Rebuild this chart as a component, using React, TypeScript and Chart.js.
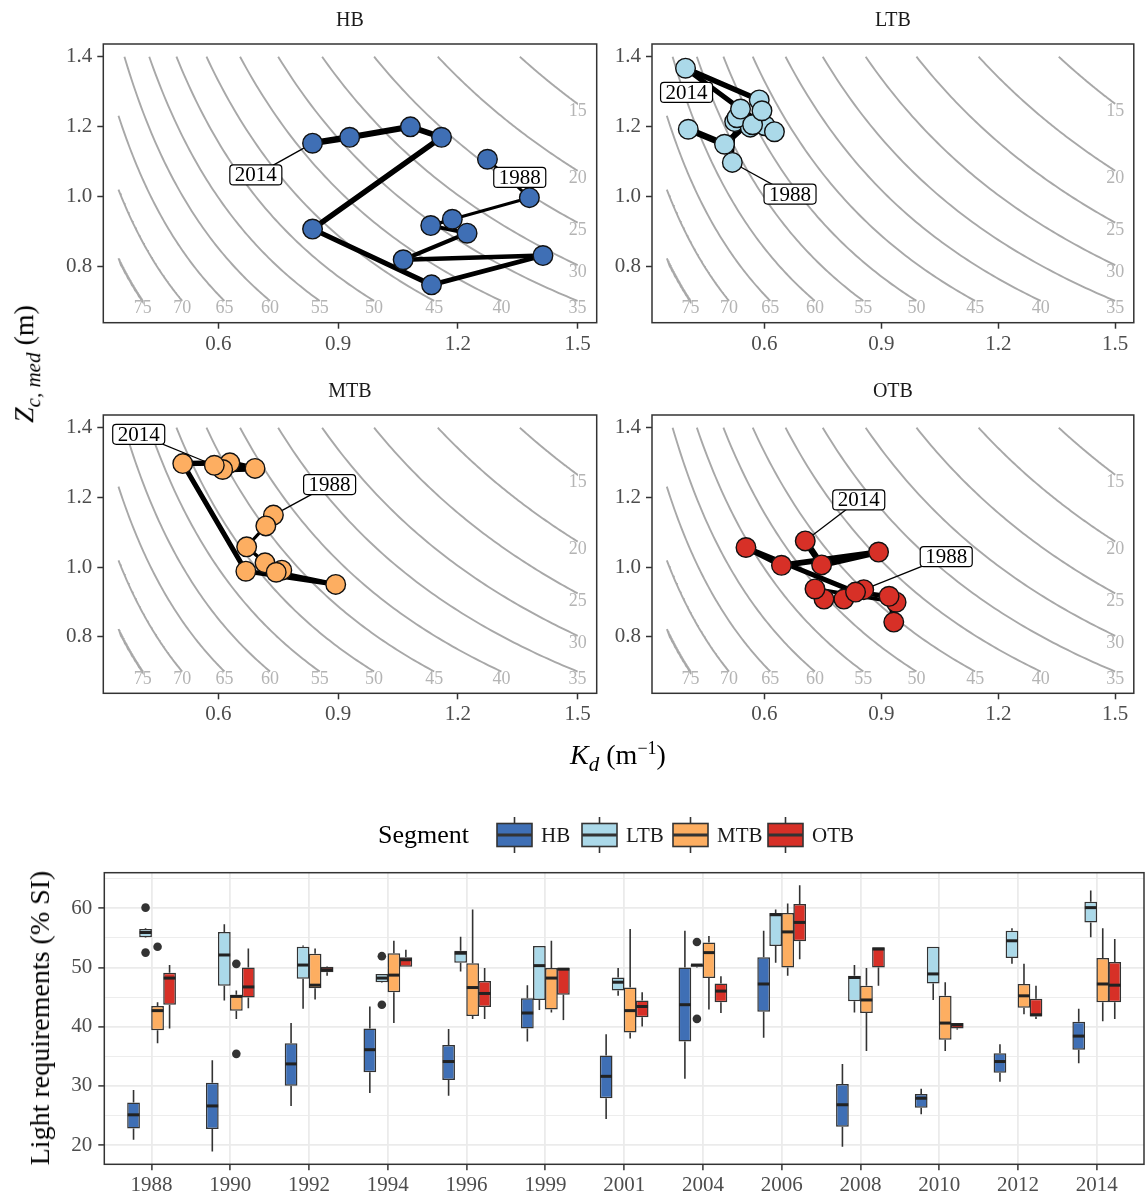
import React, { useEffect, useRef } from "react";
import { Chart, registerables } from "chart.js";

Chart.register(...registerables);

const SERIF = "'Liberation Serif', 'Times New Roman', Times, serif";

// ---------- data ----------
const years = ["1988", "1990", "1992", "1994", "1996", "1999", "2001", "2004", "2006", "2008", "2010", "2012", "2014"];
const kdTicks = [0.6, 0.9, 1.2, 1.5];
const zcTicks = [0.8, 1.0, 1.2, 1.4];
const lightLevels = [75, 70, 65, 60, 55, 50, 45, 40, 35, 30, 25, 20, 15];

// median Kd (m-1) and Zc,med (m) by year (same order as `years`)
const hbKd = [1.274, 1.379, 1.186, 1.132, 1.223, 1.063, 1.413, 1.134, 0.836, 1.159, 1.081, 0.929, 0.836];
const hbZc = [1.106, 0.996, 0.934, 0.916, 0.894, 0.818, 0.830, 0.746, 0.906, 1.169, 1.199, 1.169, 1.152];
const ltbKd = [0.518, 0.524, 0.564, 0.602, 0.530, 0.570, 0.626, 0.539, 0.398, 0.587, 0.594, 0.498, 0.405];
const ltbZc = [1.097, 1.214, 1.198, 1.202, 1.225, 1.205, 1.185, 1.250, 1.367, 1.276, 1.245, 1.149, 1.192];
const mtbKd = [0.738, 0.719, 0.671, 0.717, 0.759, 0.745, 0.894, 0.669, 0.511, 0.629, 0.692, 0.611, 0.590];
const mtbZc = [1.149, 1.118, 1.058, 1.012, 0.991, 0.985, 0.950, 0.988, 1.297, 1.299, 1.283, 1.280, 1.292];
const otbKd = [0.855, 0.804, 0.753, 0.730, 0.938, 0.932, 0.920, 0.834, 0.553, 0.644, 0.893, 0.747, 0.705];
const otbZc = [0.935, 0.908, 0.908, 0.937, 0.899, 0.842, 0.916, 0.928, 1.056, 1.005, 1.043, 1.006, 1.075];

// light requirements (% SI): [lower whisker, Q1, median, Q3, upper whisker]
const hbBox = [
  [20.9, 22.8, 25.1, 27.2, 29.3], [18.9, 22.7, 26.6, 30.5, 34.3], [26.6, 30.0, 33.7, 37.2, 40.6],
  [28.8, 32.3, 36.1, 39.7, 43.4], [28.3, 31.0, 34.1, 36.9, 39.6], [37.5, 39.7, 42.3, 44.8, 47.0],
  [24.4, 27.9, 31.6, 35.1, 38.7], [31.2, 37.5, 43.7, 50.0, 56.2], [38.1, 42.5, 47.2, 51.7, 56.2],
  [19.7, 23.1, 26.8, 30.3, 33.7], [25.2, 26.3, 27.9, 28.6, 29.5], [30.7, 32.2, 34.1, 35.5, 37.0],
  [33.8, 36.1, 38.4, 40.8, 43.0],
];
const ltbBox = [
  [55.0, 55.1, 55.9, 56.5, 56.6], [44.4, 46.9, 52.1, 56.0, 57.3], [43.0, 48.1, 50.4, 53.5, 53.7],
  [47.4, 47.5, 48.2, 48.9, 48.9], [49.3, 50.8, 52.4, 52.8, 55.2], [42.8, 44.5, 50.3, 53.6, 53.6],
  [45.2, 46.1, 47.5, 48.3, 49.9], [50.0, 50.1, 50.4, 50.5, 50.5], [50.8, 53.6, 58.9, 59.2, 59.8],
  [42.4, 44.3, 48.3, 48.6, 50.4], [44.5, 47.3, 48.9, 53.5, 53.5], [50.6, 51.6, 54.5, 56.2, 56.6],
  [55.1, 57.6, 60.1, 61.1, 63.0],
];
const mtbBox = [
  [37.2, 39.4, 42.7, 43.5, 44.1], [41.3, 42.7, 45.1, 45.4, 46.1], [44.6, 46.5, 47.0, 52.3, 53.2],
  [40.6, 45.8, 48.7, 52.4, 54.5], [41.3, 41.8, 46.6, 50.7, 59.8], [42.4, 42.9, 48.2, 49.9, 54.5],
  [38.0, 39.0, 42.7, 46.6, 56.5], [42.9, 48.2, 52.5, 54.2, 55.3], [48.6, 50.0, 56.0, 59.2, 60.8],
  [35.9, 42.3, 44.5, 46.9, 49.9], [35.9, 37.8, 40.6, 45.2, 47.5], [42.1, 43.2, 45.2, 47.2, 50.6],
  [40.9, 44.1, 47.2, 51.6, 56.6],
];
const otbBox = [
  [39.7, 43.7, 48.2, 49.1, 50.4], [43.1, 44.9, 46.7, 50.0, 53.2], [48.6, 49.2, 49.6, 50.1, 50.2],
  [50.1, 50.1, 51.3, 51.7, 53.0], [41.3, 43.3, 45.6, 47.7, 49.9], [41.1, 45.4, 49.7, 49.9, 49.9],
  [40.0, 41.6, 43.4, 44.4, 45.8], [42.3, 44.1, 46.0, 47.3, 48.5], [51.4, 54.4, 57.6, 60.7, 63.9],
  [46.9, 50.0, 53.1, 53.4, 53.4], [39.5, 39.7, 40.3, 40.6, 40.6], [41.3, 41.7, 42.0, 44.7, 46.9],
  [41.3, 44.1, 47.0, 50.9, 54.8],
];
// outliers: [year index, value]
const hbOut: number[][] = [];
const ltbOut = [[0, 60.1], [0, 52.5], [3, 51.9], [3, 43.7], [7, 54.3], [7, 41.3]];
const mtbOut = [[0, 53.5], [1, 50.6], [1, 35.4]];
const otbOut: number[][] = [];

const pctTicks = [20, 25, 30, 35, 40, 45, 50, 55, 60, 65];

// ---------- styling ----------
const COLORS = { HB: "#3f6fb5", LTB: "#abd9e9", MTB: "#fdae61", OTB: "#d73027" };
const KD_MIN = 0.312, KD_MAX = 1.5476, ZC_MIN = 0.6375, ZC_MAX = 1.4364;
const CONT_KD = [0.35, 1.5], CONT_ZC = [0.7, 1.4];

function frame(chart: any) {
  const { ctx, chartArea: a } = chart;
  ctx.save();
  ctx.strokeStyle = "#333333";
  ctx.lineWidth = 1.5;
  ctx.strokeRect(a.left, a.top, a.right - a.left, a.bottom - a.top);
  ctx.restore();
}

function roundRect(ctx: CanvasRenderingContext2D, x: number, y: number, w: number, h: number, r: number) {
  ctx.beginPath();
  ctx.moveTo(x + r, y);
  ctx.lineTo(x + w - r, y);
  ctx.arcTo(x + w, y, x + w, y + r, r);
  ctx.lineTo(x + w, y + h - r);
  ctx.arcTo(x + w, y + h, x + w - r, y + h, r);
  ctx.lineTo(x + r, y + h);
  ctx.arcTo(x, y + h, x, y + h - r, r);
  ctx.lineTo(x, y + r);
  ctx.arcTo(x, y, x + r, y, r);
  ctx.closePath();
}

type Lab = { i: number; dx: number; dy: number; seg: boolean };
type PanelProps = {
  name: string; kd: number[]; zc: number[]; color: string;
  left: number; top: number; width: number; height: number;
  area: { l: number; t: number; r: number; b: number };
  labels: Lab[];
};

function Panel(p: PanelProps) {
  const ref = useRef<HTMLCanvasElement>(null);
  useEffect(() => {
    const contours = lightLevels.map((lv) => {
      const k = -Math.log(lv / 100);
      const a = Math.max(CONT_KD[0], k / CONT_ZC[1]);
      const b = Math.min(CONT_KD[1], k / CONT_ZC[0]);
      const pts: { x: number; y: number }[] = [];
      for (let j = 0; j <= 80; j++) {
        const x = a + ((b - a) * j) / 80;
        pts.push({ x, y: k / x });
      }
      return pts;
    });
    const n = p.kd.length;
    const path = p.kd.map((x, i) => ({ x, y: p.zc[i] }));
    const datasets: any[] = [
      {
        type: "line", data: path, showLine: true, borderColor: "#000000",
        borderCapStyle: "round", borderJoinStyle: "round", borderWidth: 4,
        segment: { borderWidth: (c: any) => 2.8 + (c.p0DataIndex * 3.6) / (n - 2) },
        pointRadius: 9.8, pointBorderWidth: 1.4, pointBorderColor: "#111111",
        pointBackgroundColor: p.color, order: 0,
      },
      ...contours.map((d) => ({
        type: "line", data: d, showLine: true, borderColor: "#a8a8a8", borderWidth: 1.9,
        pointRadius: 0, tension: 0, order: 1,
      })),
    ];
    const xH = p.height - p.area.b;
    const plugin = {
      id: "panelDeco",
      afterDatasetsDraw(chart: any) {
        const { ctx, scales } = chart;
        const xs = scales.x, ys = scales.y;
        frame(chart);
        ctx.save();
        // contour labels
        ctx.fillStyle = "#b4b4b4";
        ctx.font = `18px ${SERIF}`;
        ctx.textAlign = "center";
        ctx.textBaseline = "middle";
        lightLevels.forEach((lv) => {
          const k = -Math.log(lv / 100);
          let kx = k / CONT_ZC[0], zy = CONT_ZC[0];
          if (kx > CONT_KD[1] + 0.002) { kx = CONT_KD[1]; zy = k / CONT_KD[1]; }
          ctx.fillText(String(lv), xs.getPixelForValue(kx), ys.getPixelForValue(zy) + 7.5);
        });
        // year labels
        ctx.font = `21px ${SERIF}`;
        p.labels.forEach((l) => {
          const px = xs.getPixelForValue(p.kd[l.i]);
          const py = ys.getPixelForValue(p.zc[l.i]);
          const cx = px + l.dx, cy = py + l.dy;
          if (l.seg) {
            const d = Math.hypot(l.dx, l.dy);
            ctx.strokeStyle = "#000";
            ctx.lineWidth = 1.3;
            ctx.beginPath();
            ctx.moveTo(px + (l.dx / d) * 10, py + (l.dy / d) * 10);
            ctx.lineTo(cx, cy);
            ctx.stroke();
          }
          const t = years[l.i];
          const w = ctx.measureText(t).width + 10;
          const h = 20;
          roundRect(ctx, cx - w / 2, cy - h / 2, w, h, 3.5);
          ctx.fillStyle = "#ffffff";
          ctx.fill();
          ctx.strokeStyle = "#000";
          ctx.lineWidth = 1.2;
          ctx.stroke();
          ctx.fillStyle = "#000";
          ctx.fillText(t, cx, cy + 1);
        });
        // strip title
        ctx.fillStyle = "#1a1a1a";
        ctx.font = `20px ${SERIF}`;
        ctx.fillText(p.name, (chart.chartArea.left + chart.chartArea.right) / 2, chart.chartArea.top - 23.5);
        ctx.restore();
      },
    };
    const tickFont = { size: 21, family: SERIF };
    const chart = new Chart(ref.current as HTMLCanvasElement, {
      type: "scatter",
      data: { datasets },
      options: {
        animation: false, responsive: false, events: [],
        layout: { padding: { left: 0, top: p.area.t, right: p.width - p.area.r, bottom: 0 } },
        plugins: { legend: { display: false }, tooltip: { enabled: false } },
        scales: {
          x: {
            type: "linear", min: KD_MIN, max: KD_MAX,
            afterBuildTicks: (s: any) => { s.ticks = kdTicks.map((v) => ({ value: v })); },
            afterFit: (s: any) => { s.height = xH; s.paddingLeft = 0; s.paddingRight = 0; },
            ticks: { callback: (v: any) => Number(v).toFixed(1), font: tickFont, color: "#4d4d4d", padding: 3, maxRotation: 0, autoSkip: false },
            grid: { drawOnChartArea: false, drawTicks: true, tickLength: 6, tickColor: "#333333", tickWidth: 1.5 },
            border: { display: false },
          },
          y: {
            type: "linear", min: ZC_MIN, max: ZC_MAX,
            afterBuildTicks: (s: any) => { s.ticks = zcTicks.map((v) => ({ value: v })); },
            afterFit: (s: any) => { s.width = p.area.l; s.paddingTop = 0; s.paddingBottom = 0; },
            ticks: { callback: (v: any) => Number(v).toFixed(1), font: tickFont, color: "#4d4d4d", padding: 5, autoSkip: false },
            grid: { drawOnChartArea: false, drawTicks: true, tickLength: 6, tickColor: "#333333", tickWidth: 1.5 },
            border: { display: false },
          },
        },
      } as any,
      plugins: [plugin],
    });
    return () => chart.destroy();
  }, []);
  return (
    <canvas ref={ref} width={p.width} height={p.height}
      style={{ position: "absolute", left: p.left, top: p.top, width: p.width, height: p.height }} />
  );
}

function BoxPlot() {
  const ref = useRef<HTMLCanvasElement>(null);
  const W = 1145, H = 406, TOP = 790;
  useEffect(() => {
    const segs = [
      { name: "HB", box: hbBox, out: hbOut, color: COLORS.HB },
      { name: "LTB", box: ltbBox, out: ltbOut, color: COLORS.LTB },
      { name: "MTB", box: mtbBox, out: mtbOut, color: COLORS.MTB },
      { name: "OTB", box: otbBox, out: otbOut, color: COLORS.OTB },
    ];
    const datasets = segs.map((s) => ({
      label: s.name,
      data: s.box.map((b, i) => ({ x: i, y: [b[1], b[3]] })),
      backgroundColor: s.color, borderColor: "#333333", borderWidth: 1.5, borderSkipped: false,
      categoryPercentage: 0.61, barPercentage: 1.06,
    }));
    const plugin = {
      id: "boxDeco",
      afterDatasetsDraw(chart: any) {
        const { ctx } = chart;
        const ys = chart.scales.y;
        ctx.save();
        segs.forEach((s, di) => {
          const meta = chart.getDatasetMeta(di);
          meta.data.forEach((bar: any, j: number) => {
            const b = s.box[j];
            const x = bar.x, w = bar.width;
            ctx.strokeStyle = "#333333";
            ctx.lineWidth = 1.6;
            ctx.beginPath();
            ctx.moveTo(x, ys.getPixelForValue(b[3])); ctx.lineTo(x, ys.getPixelForValue(b[4]));
            ctx.moveTo(x, ys.getPixelForValue(b[1])); ctx.lineTo(x, ys.getPixelForValue(b[0]));
            ctx.stroke();
            ctx.strokeStyle = "#222222";
            ctx.lineWidth = 3;
            ctx.beginPath();
            const my = ys.getPixelForValue(b[2]);
            ctx.moveTo(x - w / 2 + 0.5, my); ctx.lineTo(x + w / 2 - 0.5, my);
            ctx.stroke();
          });
          s.out.forEach(([j, v]) => {
            const bar: any = meta.data[j];
            ctx.fillStyle = "#333333";
            ctx.beginPath();
            ctx.arc(bar.x, ys.getPixelForValue(v), 4.3, 0, Math.PI * 2);
            ctx.fill();
          });
        });
        frame(chart);
        // legend
        const ly = 835 - TOP;
        ctx.fillStyle = "#000";
        ctx.font = `26px ${SERIF}`;
        ctx.textAlign = "left";
        ctx.textBaseline = "middle";
        ctx.fillText("Segment", 378, ly + 1);
        const keyX = [497, 582, 673, 768];
        ctx.font = `21px ${SERIF}`;
        segs.forEach((s, i) => {
          const kx = keyX[i], kw = 35, kh = 23;
          ctx.strokeStyle = "#333333";
          ctx.lineWidth = 1.6;
          ctx.beginPath();
          ctx.moveTo(kx + kw / 2, ly - 18); ctx.lineTo(kx + kw / 2, ly + 18);
          ctx.stroke();
          ctx.fillStyle = s.color;
          ctx.fillRect(kx, ly - kh / 2, kw, kh);
          ctx.strokeRect(kx, ly - kh / 2, kw, kh);
          ctx.lineWidth = 3;
          ctx.beginPath();
          ctx.moveTo(kx, ly); ctx.lineTo(kx + kw, ly);
          ctx.stroke();
          ctx.fillStyle = "#1a1a1a";
          ctx.fillText(s.name, kx + kw + 9, ly + 1);
        });
        ctx.restore();
      },
    };
    const tickFont = { size: 21, family: SERIF };
    const chart = new Chart(ref.current as HTMLCanvasElement, {
      type: "bar",
      data: { datasets },
      options: {
        animation: false, responsive: false, events: [],
        layout: { padding: { left: 0, top: 872.7 - TOP, right: W - 1144, bottom: 0 } },
        plugins: { legend: { display: false }, tooltip: { enabled: false } },
        scales: {
          x: {
            type: "linear", min: -0.6, max: 12.6, offset: false,
            afterBuildTicks: (s: any) => { s.ticks = years.map((_, i) => ({ value: i })); },
            afterFit: (s: any) => { s.height = H - (1164.3 - TOP); s.paddingLeft = 0; s.paddingRight = 0; },
            ticks: { callback: (v: any) => years[Math.round(Number(v))], font: tickFont, color: "#4d4d4d", padding: 3, maxRotation: 0, autoSkip: false },
            grid: { offset: false, color: "#ebebeb", lineWidth: 1.8, drawTicks: true, tickLength: 6, tickColor: "#333333", tickWidth: 1.5 },
            border: { display: false },
          },
          y: {
            type: "linear", min: 16.74, max: 66.0,
            afterBuildTicks: (s: any) => { s.ticks = pctTicks.map((v) => ({ value: v })); },
            afterFit: (s: any) => { s.width = 104.3; s.paddingTop = 0; s.paddingBottom = 0; },
            ticks: { callback: (v: any) => (Number(v) % 10 === 0 ? String(v) : ""), font: tickFont, color: "#4d4d4d", padding: 6, autoSkip: false },
            grid: {
              color: "#ebebeb",
              lineWidth: (c: any) => (c.tick && c.tick.value % 10 === 0 ? 1.8 : 0.9),
              drawTicks: true, tickLength: 6, tickWidth: 1.5,
              tickColor: (c: any) => (c.tick && c.tick.value % 10 === 0 ? "#333333" : "rgba(0,0,0,0)"),
            },
            border: { display: false },
          },
        },
      } as any,
      plugins: [plugin],
    });
    return () => chart.destroy();
  }, []);
  return (
    <canvas ref={ref} width={W} height={H}
      style={{ position: "absolute", left: 0, top: TOP, width: W, height: H }} />
  );
}

export default function App() {
  const titleStyle: React.CSSProperties = {
    position: "absolute", fontFamily: SERIF, fontSize: 28, color: "#000", whiteSpace: "nowrap", lineHeight: 1,
  };
  return (
    <div style={{ position: "absolute", left: 0, top: 0, width: 1145, height: 1196, background: "#fff", overflow: "hidden" }}>
      <Panel name="HB" kd={hbKd} zc={hbZc} color={COLORS.HB} left={0} top={0} width={610} height={372}
        area={{ l: 103.3, t: 44, r: 596.7, b: 322.7 }}
        labels={[{ i: 12, dx: -56.7, dy: 31.7, seg: true }, { i: 0, dx: 32.3, dy: 18.2, seg: false }]} />
      <Panel name="LTB" kd={ltbKd} zc={ltbZc} color={COLORS.LTB} left={550} top={0} width={595} height={372}
        area={{ l: 102, t: 44, r: 593.5, b: 322.7 }}
        labels={[{ i: 12, dx: -1.7, dy: -36.8, seg: false }, { i: 0, dx: 57.7, dy: 31.7, seg: true }]} />
      <Panel name="MTB" kd={mtbKd} zc={mtbZc} color={COLORS.MTB} left={0} top={372} width={610} height={370}
        area={{ l: 103.3, t: 43, r: 596.7, b: 321.3 }}
        labels={[{ i: 12, dx: -75.6, dy: -31, seg: true }, { i: 0, dx: 56.2, dy: -30.5, seg: true }]} />
      <Panel name="OTB" kd={otbKd} zc={otbZc} color={COLORS.OTB} left={550} top={372} width={595} height={370}
        area={{ l: 102, t: 43, r: 593.5, b: 321.3 }}
        labels={[{ i: 12, dx: 53.5, dy: -41, seg: true }, { i: 0, dx: 82.5, dy: -33, seg: true }]} />
      <BoxPlot />
      <div style={{ ...titleStyle, left: 27, top: 364, transform: "translate(-50%, -50%) rotate(-90deg)" }}>
        <i>Z</i><sub style={{ fontSize: 21 }}><i>c, med</i></sub> (m)
      </div>
      <div style={{ ...titleStyle, left: 618, top: 757, transform: "translate(-50%, -50%)" }}>
        <i>K</i><sub style={{ fontSize: 21 }}><i>d</i></sub> (m<sup style={{ fontSize: 18 }}>−1</sup>)
      </div>
      <div style={{ ...titleStyle, left: 40, top: 1018, transform: "translate(-50%, -50%) rotate(-90deg)" }}>
        Light requirements (% SI)
      </div>
    </div>
  );
}
